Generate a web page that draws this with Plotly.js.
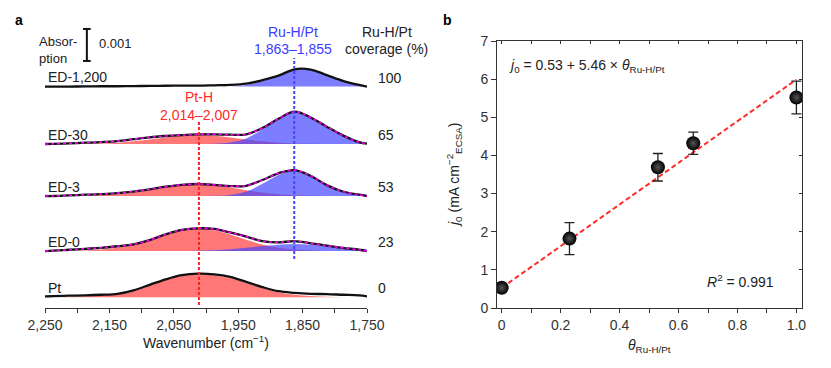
<!DOCTYPE html>
<html>
<head>
<meta charset="utf-8">
<script src="https://cdn.plot.ly/plotly-3.0.1.min.js"></script>
<style>html,body{margin:0;padding:0;background:#fff;}#chart{width:831px;height:368px;}</style>
</head>
<body>
<div id="chart"></div>
<script>
// ---------- Panel a data: wavenumber grid (cm-1) ----------
const wavenumber = [2250, 2237.5, 2212.5, 2187.5, 2162.5, 2137.5, 2112.5, 2087.5, 2062.5, 2037.5, 2012.5, 1987.5, 1962.5, 1937.5, 1912.5, 1887.5, 1862.5, 1837.5, 1812.5, 1787.5, 1762.5, 1750];
const samples = ['ED-1,200', 'ED-30', 'ED-3', 'ED-0', 'Pt'];
const coverage = ['100', '65', '53', '23', '0'];
// vertical stacking offsets (absorption, units of 0.001)
const offsets = [6.92, 5.125, 3.5, 1.78, 0.334];
// measured spectra (absorption above own baseline, units of 0.001)
const specED1200 = [0, 0, 0, 0.005, 0.01, 0.01, 0.015, 0.02, 0.025, 0.03, 0.03, 0.04, 0.05, 0.09, 0.20, 0.34, 0.54, 0.53, 0.36, 0.18, 0.05, 0];
const specED30   = [0, 0.005, 0.02, 0.04, 0.06, 0.09, 0.15, 0.21, 0.25, 0.28, 0.30, 0.30, 0.29, 0.30, 0.50, 0.79, 1.01, 0.83, 0.54, 0.27, 0.06, 0.01];
const specED3    = [0, 0, 0.02, 0.04, 0.06, 0.09, 0.14, 0.21, 0.29, 0.35, 0.375, 0.35, 0.31, 0.32, 0.50, 0.71, 0.81, 0.63, 0.34, 0.14, 0.04, 0];
const specED0    = [0, 0.01, 0.04, 0.07, 0.10, 0.15, 0.21, 0.34, 0.52, 0.66, 0.71, 0.69, 0.58, 0.45, 0.31, 0.27, 0.31, 0.24, 0.17, 0.10, 0.04, 0];
const specPt     = [0.03, 0.04, 0.05, 0.06, 0.08, 0.11, 0.22, 0.39, 0.56, 0.69, 0.74, 0.72, 0.64, 0.48, 0.32, 0.19, 0.14, 0.11, 0.10, 0.08, 0.06, 0.03];
// Pt-H fitted component (red)
const ptH_ED1200 = null;
const ptH_ED30 = [0, 0.001, 0.002, 0.007, 0.018, 0.042, 0.083, 0.14, 0.206, 0.26, 0.28, 0.26, 0.206, 0.14, 0.083, 0.042, 0.018, 0.007, 0.002, 0, 0, 0];
const ptH_ED3  = [0, 0.002, 0.003, 0.009, 0.023, 0.054, 0.106, 0.18, 0.265, 0.334, 0.36, 0.334, 0.265, 0.18, 0.106, 0.054, 0.023, 0.009, 0.003, 0, 0, 0];
const ptH_ED0  = [0.001, 0.002, 0.005, 0.017, 0.045, 0.104, 0.207, 0.352, 0.516, 0.649, 0.70, 0.649, 0.516, 0.352, 0.207, 0.104, 0.045, 0.017, 0.005, 0.002, 0, 0];
const ptH_Pt   = [0, 0, 0.01, 0.03, 0.06, 0.11, 0.19, 0.37, 0.55, 0.67, 0.72, 0.69, 0.60, 0.45, 0.29, 0.16, 0.08, 0.04, 0.015, 0, 0, 0];
// Ru-H/Pt fitted component (blue)
const ruH_ED1200 = [0, 0, 0, 0, 0, 0, 0, 0, 0, 0, 0, 0, 0, 0.05, 0.17, 0.32, 0.52, 0.51, 0.35, 0.17, 0.04, 0];
const ruH_ED30 = [0, 0, 0, 0, 0, 0, 0, 0, 0, 0, 0.002, 0.008, 0.044, 0.17, 0.46, 0.81, 0.99, 0.81, 0.52, 0.25, 0.06, 0.02];
const ruH_ED3  = [0, 0, 0, 0, 0, 0, 0, 0, 0, 0, 0.001, 0.006, 0.035, 0.14, 0.38, 0.66, 0.79, 0.65, 0.36, 0.135, 0.035, 0.015];
const ruH_ED0  = [0, 0, 0, 0, 0, 0, 0, 0, 0, 0.005, 0.012, 0.025, 0.056, 0.10, 0.155, 0.20, 0.22, 0.20, 0.155, 0.10, 0.056, 0.04];
const ruH_Pt   = null;
const showFitSum = [false, true, true, true, false];
// peak positions marked by dashed lines
const ptHCenter = 2011;
const ruHCenter = 1863;

// ---------- Panel b data ----------
const theta = [0, 0.23, 0.53, 0.65, 1.0];
const j0 = [0.53, 1.82, 3.69, 4.32, 5.52];
const j0Err = [0.05, 0.42, 0.36, 0.29, 0.43];
const fitIntercept = 0.53;
const fitSlope = 5.46;
const fitR2 = 0.991;
const thetaTickVals = [0, 0.2, 0.4, 0.6, 0.8, 1.0];
const thetaTickText = ['0', '0.2', '0.4', '0.6', '0.8', '1.0'];

// ---------- build ----------
const W = 831, H = 368;
const PX = x => x / W, PY = y => 1 - y / H;
const FONT = 'Liberation Sans, Arial, sans-serif';
const spectra = [specED1200, specED30, specED3, specED0, specPt];
const ptH = [ptH_ED1200, ptH_ED30, ptH_ED3, ptH_ED0, ptH_Pt];
const ruH = [ruH_ED1200, ruH_ED30, ruH_ED3, ruH_ED0, ruH_Pt];
const RED_FILL = 'rgba(255,95,95,0.85)';
const BLUE_FILL = 'rgba(70,70,255,0.7)';

const traces = [];
function addFill(vals, off, color) {
  if (!vals) return;
  traces.push({x: wavenumber, y: wavenumber.map(() => off), mode: 'lines', line: {width: 0, color: 'rgba(0,0,0,0)'}, hoverinfo: 'skip', showlegend: false, xaxis: 'x', yaxis: 'y'});
  traces.push({x: wavenumber, y: vals.map(v => v + off), mode: 'lines', line: {width: 0, shape: 'spline', color: color}, fill: 'tonexty', fillcolor: color, hoverinfo: 'skip', showlegend: false, xaxis: 'x', yaxis: 'y'});
}
for (let i = 0; i < spectra.length; i++) {
  const off = offsets[i];
  addFill(ptH[i], off, RED_FILL);
  addFill(ruH[i], off, BLUE_FILL);
  const ys = spectra[i].map(v => v + off);
  traces.push({x: wavenumber, y: ys, mode: 'lines', line: {color: '#111', width: 2.3, shape: 'spline'}, showlegend: false, xaxis: 'x', yaxis: 'y'});
  if (showFitSum[i]) {
    traces.push({x: wavenumber, y: ys, mode: 'lines', line: {color: '#ff00ff', width: 1.6, shape: 'spline', dash: '3px,3px'}, showlegend: false, xaxis: 'x', yaxis: 'y'});
  }
}
// dashed position markers
traces.push({x: [ptHCenter, ptHCenter], y: [0.09, 5.81], mode: 'lines', line: {color: '#ff2020', width: 2, dash: '3px,2px'}, showlegend: false, xaxis: 'x', yaxis: 'y'});
traces.push({x: [ruHCenter, ruHCenter], y: [1.53, 7.81], mode: 'lines', line: {color: '#4545ff', width: 2, dash: '3px,2px'}, showlegend: false, xaxis: 'x', yaxis: 'y'});
// scale bar (0.001)
traces.push({x: [2185, 2185], y: [7.72, 8.72], mode: 'lines', line: {color: '#111', width: 2}, showlegend: false, xaxis: 'x', yaxis: 'y'});
traces.push({x: [2191, 2179], y: [8.72, 8.72], mode: 'lines', line: {color: '#111', width: 2}, showlegend: false, xaxis: 'x', yaxis: 'y'});
traces.push({x: [2191, 2179], y: [7.72, 7.72], mode: 'lines', line: {color: '#111', width: 2}, showlegend: false, xaxis: 'x', yaxis: 'y'});

// panel b: fit line
const fitX = [0, 1.0];
traces.push({x: fitX, y: fitX.map(t => fitIntercept + fitSlope * t), mode: 'lines', line: {color: '#ff2a2a', width: 2, dash: '5px,3px'}, showlegend: false, xaxis: 'x2', yaxis: 'y2'});
traces.push({x: theta, y: j0, mode: 'markers', marker: {size: 14, color: '#000', gradient: {type: 'radial', color: '#555'}, line: {width: 0}},
  error_y: {type: 'data', array: j0Err, color: '#222', thickness: 1.3, width: 5}, showlegend: false, xaxis: 'x2', yaxis: 'y2'});
traces.push({x: [null], y: [null], xaxis: 'x3', yaxis: 'y3', showlegend: false, hoverinfo: 'skip'});

const ann = [];
function T(text, x, y, opt) {
  ann.push(Object.assign({text: text, x: PX(x), y: PY(y), xref: 'paper', yref: 'paper', showarrow: false,
    xanchor: 'center', yanchor: 'middle', font: {family: FONT, size: 14, color: '#222'}}, opt || {}));
}
T('<b>a</b>', 19, 20, {font: {family: FONT, size: 14, color: '#000'}});
T('<b>b</b>', 447, 20, {font: {family: FONT, size: 14, color: '#000'}});
T('Absor-', 37, 42, {xanchor: 'left', font: {family: FONT, size: 13, color: '#222'}});
T('ption', 37, 58, {xanchor: 'left', font: {family: FONT, size: 13, color: '#222'}});
T('0.001', 97, 43, {xanchor: 'left', font: {family: FONT, size: 13, color: '#222'}});
T('Ru-H/Pt', 293, 32, {font: {family: FONT, size: 14, color: '#3c3cff'}});
T('1,863–1,855', 293, 49, {font: {family: FONT, size: 14, color: '#3c3cff'}});
T('Ru-H/Pt', 387, 32);
T('coverage (%)', 386, 49);
T('Pt-H', 199, 97, {font: {family: FONT, size: 14, color: '#ff2a2a'}});
T('2,014–2,007', 199, 115, {font: {family: FONT, size: 14, color: '#ff2a2a'}});
const labelY = [77, 135, 187, 242, 288];
const covY = [78, 135, 187, 242, 288];
for (let i = 0; i < samples.length; i++) {
  T(samples[i], 46, labelY[i], {xanchor: 'left'});
  T(coverage[i], 376, covY[i], {xanchor: 'left'});
}
T('<i>j</i><sub>0</sub> = ' + fitIntercept.toFixed(2) + ' + ' + fitSlope.toFixed(2) + ' × <i>θ</i><sub>Ru-H/Pt</sub>', 507, 66, {xanchor: 'left'});
T('<i>R</i><sup>2</sup> = ' + fitR2.toFixed(3), 705, 281, {xanchor: 'left'});
// y-axis title of panel b
T('<i>j</i><sub>0</sub> (mA cm<sup>−2</sup><sub>ECSA</sub>)', 454, 175, {textangle: -90});
// x-axis title of panel b
T('<i>θ</i><sub>Ru-H/Pt</sub>', 649, 346);

const axBase = {showgrid: false, zeroline: false, linecolor: '#333', tickcolor: '#333', tickfont: {family: FONT, size: 14, color: '#333'}};
const layout = {
  width: W, height: H, margin: {l: 0, r: 0, t: 0, b: 0}, paper_bgcolor: '#fff', plot_bgcolor: 'rgba(0,0,0,0)',
  font: {family: FONT, size: 14, color: '#222'}, separators: '.,', showlegend: false,
  xaxis: Object.assign({}, axBase, {domain: [PX(45), PX(367)], anchor: 'y', range: [2250, 1750], showline: true, linewidth: 1.2,
    ticks: 'outside', ticklen: 4, tick0: 2250, dtick: 100, tickformat: ',d',
    minor: {dtick: 50, ticks: 'outside', ticklen: 4, tickcolor: '#333'},
    title: {text: 'Wavenumber (cm<sup>−1</sup>)', font: {family: FONT, size: 14, color: '#222'}, standoff: 6}}),
  yaxis: {domain: [PY(308), PY(20)], anchor: 'x', range: [0, 9], visible: false},
  xaxis2: Object.assign({}, axBase, {domain: [PX(497), PX(802)], anchor: 'y2', range: [-0.016, 1.019], showline: true, mirror: true, linewidth: 1,
    ticks: 'outside', ticklen: 4, tickmode: 'array', tickvals: thetaTickVals, ticktext: thetaTickText, ticklabeloverflow: 'allow',
    minor: {tick0: 0, dtick: 0.1, ticks: 'outside', ticklen: 4, tickcolor: '#333'}}),
  yaxis2: Object.assign({}, axBase, {domain: [PY(308), PY(41)], anchor: 'x2', range: [0, 7], showline: true, mirror: true, linewidth: 1,
    ticks: 'outside', ticklen: 5, dtick: 1, tick0: 0}),
  xaxis3: {overlaying: 'x2', anchor: 'y2', side: 'top', range: [-0.016, 1.019], showgrid: false, zeroline: false, showline: false,
    showticklabels: false, ticks: 'inside', ticklen: 3, tickcolor: '#333', tick0: 0, dtick: 0.1},
  yaxis3: {overlaying: 'y2', anchor: 'x2', side: 'right', range: [0, 7], showgrid: false, zeroline: false, showline: false,
    showticklabels: false, ticks: 'inside', ticklen: 3, tickcolor: '#333', tick0: 0, dtick: 1},
  annotations: ann
};
Plotly.newPlot('chart', traces, layout, {displayModeBar: false, staticPlot: true});
</script>
</body>
</html>
